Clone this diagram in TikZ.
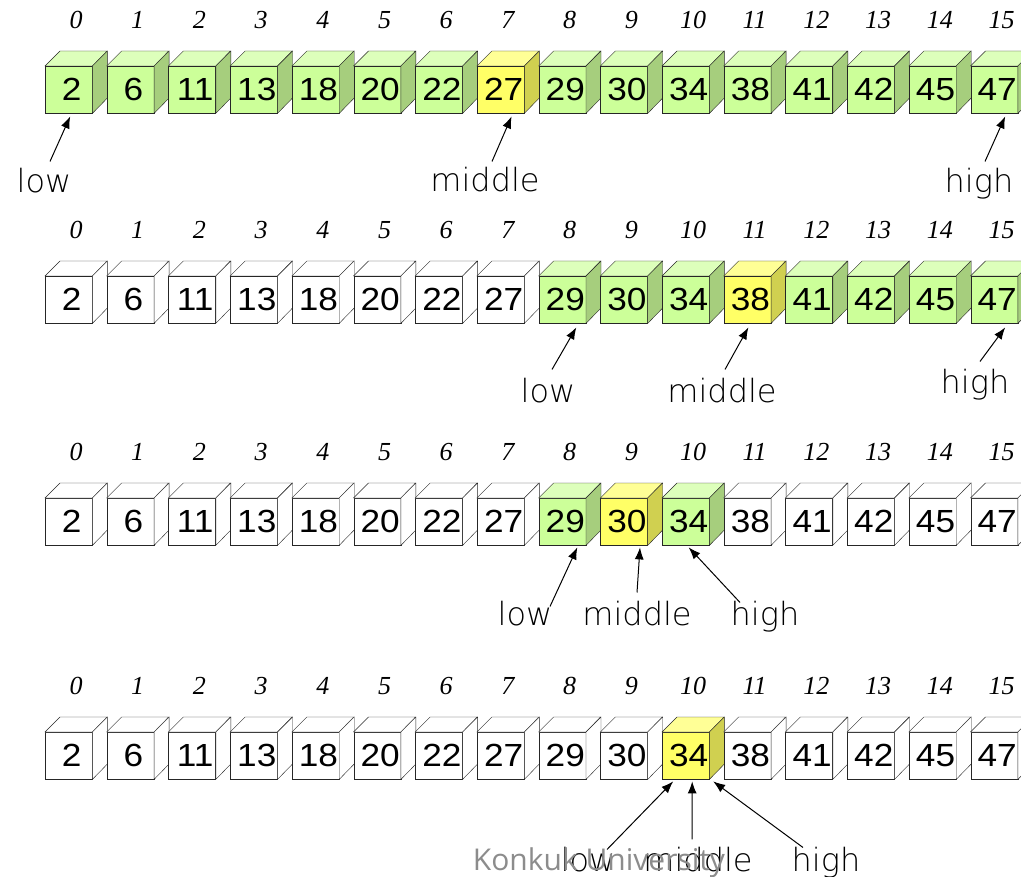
\documentclass[tikz,border=0pt]{standalone}
\usepackage{fontspec}
\usetikzlibrary{arrows.meta, positioning}

\newfontfamily\numfont[FakeStretch=1.1]{Liberation Sans}
\newfontfamily\idxfont{Liberation Serif}
\newfontfamily\handfont{DejaVu Sans ExtraLight}
\newfontfamily\markfont{Open Sans}

\definecolor{gfront}{RGB}{204,255,153}
\definecolor{gtop}{RGB}{221,255,187}
\definecolor{gside}{RGB}{166,206,125}
\definecolor{yfront}{RGB}{255,255,102}
\definecolor{ytop}{RGB}{255,255,150}
\definecolor{yside}{RGB}{208,208,80}
\colorlet{wfront}{white}
\colorlet{wtop}{white}
\colorlet{wside}{white}

\tikzset{
	cell/.style={draw=black!85, minimum width=47pt, minimum height=47pt, inner sep=0pt,
		anchor=north west, font=\numfont\fontsize{32}{32}\selectfont},
	idx/.style={inner sep=0pt, font=\idxfont\itshape\fontsize{26}{26}\selectfont},
	tag/.style={anchor=base, inner sep=0pt, font=\handfont\fontsize{32}{32}\selectfont},
	ptr/.style={-{Latex[length=12pt,width=9pt]}, line width=1pt},
}

% name, x, top y, value, colour scheme (g, y or w)
\newcommand{\drawcell}[5]{%
	\node[cell, fill=#5front] (#1) at (#2,#3) {\hspace*{6pt}\makebox[0pt]{#4}};
	\filldraw[draw=black!85, fill=#5top] (#1.north west) -- ++(15,-15) -- ++(47,0) -- (#1.north east) -- cycle;
	\filldraw[draw=black!85, fill=#5side] (#1.north east) -- ++(15,-15) -- ++(0,47) -- (#1.south east) -- cycle;
}

\begin{document}
\begin{tikzpicture}[x=1pt, y=-1pt]
	\useasboundingbox (0,0) rectangle (1021,877);

	% four rounds of the search: row / top / low / middle / high
	\foreach \r/\ty/\lo/\md/\hi in {1/66/0/7/15, 2/276/8/11/15, 3/498/8/9/10, 4/732/10/10/10}{
		\foreach \v [count=\i from 0] in {2,6,11,13,18,20,22,27,29,30,34,38,41,42,45,47}{
			\pgfmathsetmacro{\x}{45+61.7*\i}
			\ifnum\i=\md \def\s{y}\else\ifnum\i<\lo \def\s{w}\else\ifnum\i>\hi \def\s{w}\else\def\s{g}\fi\fi\fi
			\node[idx] (n\r-\i) at (\x+31,\ty-46) {\i};
			\drawcell{c\r-\i}{\x}{\ty}{\v}{\s}
		}
	}

	\node[tag] (low1) at (44,193) {low};
	\node[tag] (mid1) at (485,192) {middle};
	\node[tag] (high1) at (979,193) {high};

	\node[tag] (low2) at (548,403) {low};
	\node[tag] (mid2) at (722,403) {middle};
	\node[tag] (high2) at (975,394) {high};

	\node[tag] (low3) at (525,625) {low};
	\node[tag] (mid3) at (637,625) {middle};
	\node[tag] (high3) at (765,625) {high};

	\node[tag] (low4) at (588,871) {low};
	\node[tag] (mid4) at (698,871) {middle};
	\node[tag] (high4) at (826,871) {high};

	\draw[ptr] ([xshift=6pt,yshift=7pt]low1.north) -- ([xshift=1.5pt,yshift=-3pt]c1-0.south);
	\draw[ptr] ([xshift=7pt,yshift=6pt]mid1.north) -- ([xshift=11pt,yshift=-3pt]c1-7.south);
	\draw[ptr] ([xshift=6pt,yshift=7pt]high1.north) -- ([xshift=11pt,yshift=-3pt]c1-15.south);

	\draw[ptr] ([xshift=4pt,yshift=9pt]low2.north) -- ([xshift=14pt,yshift=-4pt]c2-8.south);
	\draw[ptr] ([xshift=3pt,yshift=9pt]mid2.north) -- ([xshift=1pt,yshift=-4pt]c2-11.south);
	\draw[ptr] ([xshift=5pt,yshift=8pt]high2.north) -- ([xshift=11pt,yshift=-4pt]c2-15.south);

	\draw[ptr] ([xshift=25pt,yshift=-6pt]low3.north) -- ([xshift=15pt,yshift=-2pt]c3-8.south);
	\draw[ptr] ([xshift=0pt,yshift=8pt]mid3.north) -- ([xshift=16pt,yshift=-2pt]c3-9.south);
	\draw[ptr] ([xshift=-25pt,yshift=-2pt]high3.north) -- ([xshift=3pt,yshift=-2pt]c3-10.south);

	\draw[ptr] ([xshift=19pt,yshift=-3pt]low4.north) -- ([xshift=-12.5pt,yshift=-2pt]c4-10.south);
	\draw[ptr] ([xshift=-6pt,yshift=7pt]mid4.north) -- ([xshift=6.5pt,yshift=-2pt]c4-10.south);
	\draw[ptr] ([xshift=-23pt,yshift=-1pt]high4.north) -- ([xshift=27.5pt,yshift=-2pt]c4-10.south);

	\node[anchor=base, inner sep=0pt, text=black!45, font=\markfont\fontsize{30}{30}\selectfont] (mark) at (599,870) {Konkuk University};
\end{tikzpicture}
\end{document}
